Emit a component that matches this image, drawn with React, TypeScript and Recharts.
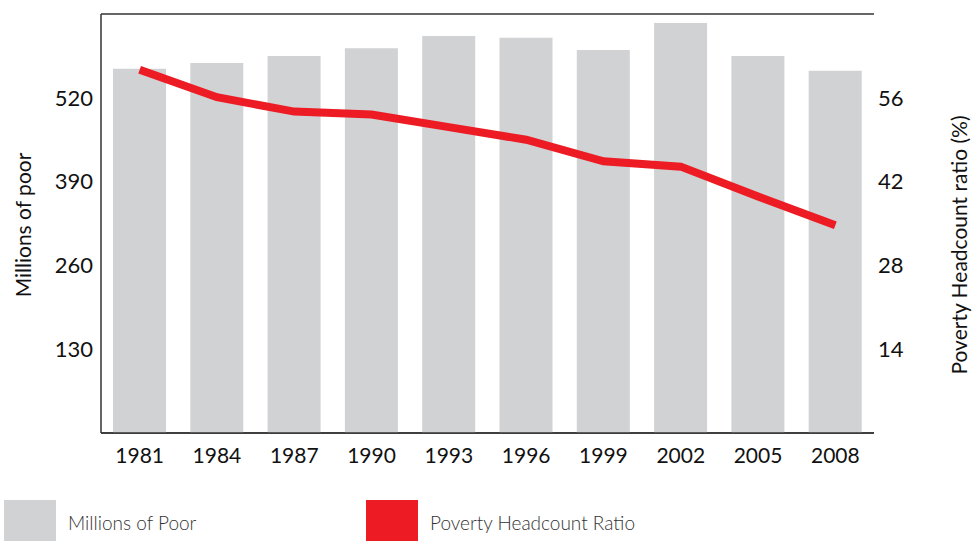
import React from "react";
import {
  ComposedChart,
  Bar,
  Line,
  XAxis,
  YAxis,
  CartesianGrid,
} from "recharts";

// valores
const years = ["1981", "1984", "1987", "1990", "1993", "1996", "1999", "2002", "2005", "2008"];
const millionsOfPoor = [565, 574, 585, 597, 616, 613, 594, 636, 585, 562];
const headcountRatio = [60.7, 56.1, 53.7, 53.2, 51.1, 49.0, 45.4, 44.5, 39.5, 34.7];
const leftTicks = [130, 260, 390, 520];
const rightTicks = [14, 28, 42, 56];

const GRAY = "#d1d2d4";
const RED = "#ed1c24";
const FONT = "Lato, 'Open Sans', sans-serif";

const data = years.map((year, i) => ({
  year,
  poor: millionsOfPoor[i],
  ratio: headcountRatio[i],
}));

const LegendItem = ({ color, label, left }: { color: string; label: string; left: number }) => (
  <div style={{ position: "absolute", left, top: 500, display: "flex", alignItems: "flex-start" }}>
    <div style={{ width: 52, height: 42, background: color }} />
    <span
      style={{
        marginLeft: 12,
        marginTop: 11,
        fontFamily: FONT,
        fontSize: 19,
        fontWeight: 300,
        color: "#333",
      }}
    >
      {label}
    </span>
  </div>
);

export default function App() {
  return (
    <div
      style={{
        position: "absolute",
        left: 0,
        top: 0,
        width: 973,
        height: 541,
        overflow: "hidden",
        background: "#fff",
        fontFamily: FONT,
      }}
    >
      <ComposedChart
        width={973}
        height={541}
        data={data}
        margin={{ top: 14, right: 0, left: 0, bottom: 68 }}
        barCategoryGap={12}
      >
        <CartesianGrid vertical={false} stroke="#333" strokeWidth={1.5} />
        <XAxis
          dataKey="year"
          axisLine={{ stroke: "#333", strokeWidth: 1.5 }}
          tickLine={false}
          tickSize={6}
          tickMargin={9}
          height={40}
          tick={{ fill: "#111", fontSize: 21, fontFamily: FONT }}
        />
        <YAxis
          yAxisId="left"
          width={101}
          domain={[0, 650]}
          ticks={leftTicks}
          axisLine={{ stroke: "#333", strokeWidth: 1.5 }}
          tickLine={false}
          tick={{ fill: "#111", fontSize: 22, fontFamily: FONT }}
        />
        <YAxis
          yAxisId="right"
          orientation="right"
          width={99}
          domain={[0, 70]}
          ticks={rightTicks}
          axisLine={false}
          tickLine={false}
          tickSize={4}
          tickMargin={0}
          tick={{ fill: "#111", fontSize: 22, fontFamily: FONT }}
        />
        <Bar yAxisId="left" dataKey="poor" fill={GRAY} isAnimationActive={false} />
        <Line
          yAxisId="right"
          dataKey="ratio"
          type="linear"
          stroke={RED}
          strokeWidth={8}
          dot={false}
          activeDot={false}
          isAnimationActive={false}
        />
      </ComposedChart>

      <svg
        width={973}
        height={541}
        style={{ position: "absolute", left: 0, top: 0, pointerEvents: "none" }}
      >
        <text
          transform="translate(31,225) rotate(-90)"
          textAnchor="middle"
          fontFamily={FONT}
          fontSize={21}
          fill="#111"
        >
          Millions of poor
        </text>
        <text
          transform="translate(967,245) rotate(-90)"
          textAnchor="middle"
          fontFamily={FONT}
          fontSize={21}
          fill="#111"
        >
          Poverty Headcount ratio (%)
        </text>
      </svg>

      <LegendItem color={GRAY} label="Millions of Poor" left={4} />
      <LegendItem color={RED} label="Poverty Headcount Ratio" left={366} />
    </div>
  );
}
